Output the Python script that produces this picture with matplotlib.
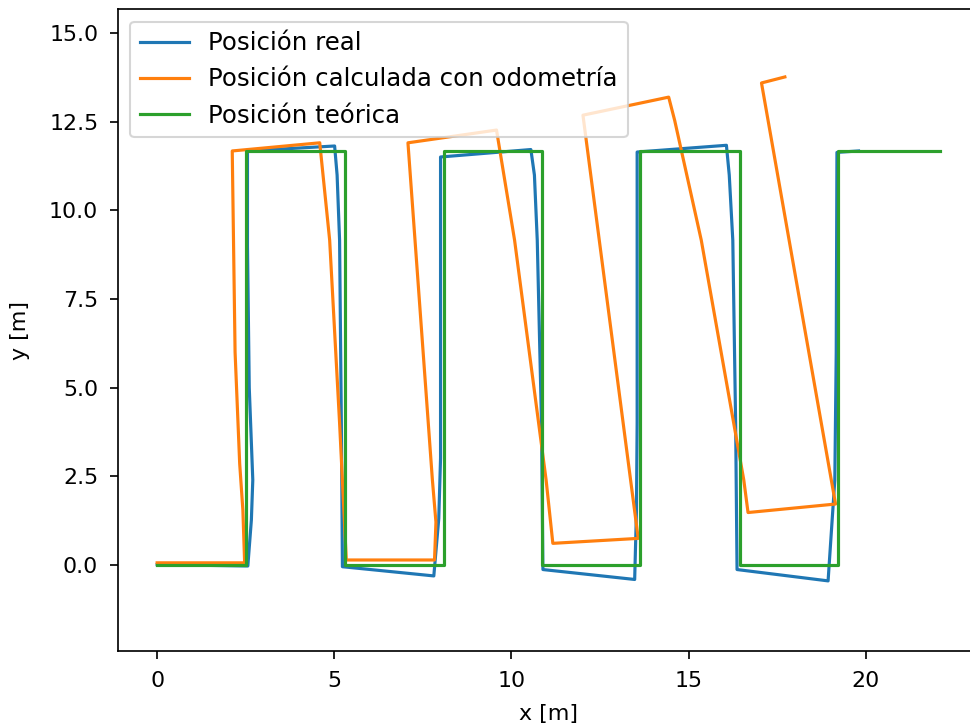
import matplotlib
matplotlib.use("Agg")
import matplotlib.pyplot as plt

# Posición teórica
x_teo = [0, 2.51, 2.51, 5.29, 5.29, 8.09, 8.09, 10.86, 10.86, 13.64, 13.64, 16.45, 16.45, 19.22, 19.22, 22.09]
y_teo = [0, 0, 11.67, 11.67, 0, 0, 11.67, 11.67, 0, 0, 11.67, 11.67, 0, 0, 11.67, 11.67]

# Posición real
x_real = [0, 2.56, 2.66, 2.70, 2.60, 2.55, 2.55, 5.01, 5.08, 5.15, 5.20, 5.23, 7.81, 7.95, 8.00, 8.00,
          10.55, 10.65, 10.73, 10.85, 10.89, 13.48, 13.53, 13.55, 13.55, 16.07, 16.15, 16.25, 16.33, 16.37,
          18.94, 19.13, 19.17, 19.19, 19.80]
y_real = [0, -0.04, 1.26, 2.39, 5.0, 9.0, 11.68, 11.82, 11.0, 9.16, 4.0, -0.06, -0.32, 1.3, 3.0, 11.51,
          11.72, 11.0, 9.16, 4.0, -0.14, -0.42, 1.5, 4.0, 11.65, 11.84, 11.0, 9.16, 4.0, -0.14,
          -0.46, 2.39, 6.0, 11.64, 11.68]

# Posición calculada con odometría
x_odo = [0, 2.47, 2.42, 2.33, 2.20, 2.12, 4.59, 4.87, 5.15, 5.34, 7.83, 7.87, 7.77, 7.08,
         9.58, 10.09, 10.98, 11.17, 13.58, 12.02, 14.44, 14.61, 15.36, 16.56, 16.68,
         19.15, 17.84, 17.06, 17.72]
y_odo = [0.05, 0.05, 1.54, 2.85, 6.0, 11.68, 11.91, 9.16, 4.0, 0.13, 0.13, 1.2, 2.39, 11.91,
         12.27, 9.16, 2.39, 0.60, 0.74, 12.69, 13.20, 12.54, 9.16, 2.39, 1.47,
         1.71, 9.16, 13.60, 13.77]

labels = ["Posición real", "Posición calculada con odometría", "Posición teórica"]

dpi = 151.5625
fig = plt.figure(figsize=(970 / dpi, 727 / dpi), dpi=dpi)
ax = fig.add_axes([118 / 970, 1 - 651 / 727, 861 / 970, 641.7 / 727])

ax.plot(x_real, y_real, color="#1f77b4", label=labels[0])
ax.plot(x_odo, y_odo, color="#ff7f0e", label=labels[1])
ax.plot(x_teo, y_teo, color="#2ca02c", label=labels[2])

ax.set_xlim(-1.105, 23.2)
ax.set_ylim(-2.44, 15.68)
ax.set_xticks([0, 5, 10, 15, 20])
ax.set_yticks([0.0, 2.5, 5.0, 7.5, 10.0, 12.5, 15.0])
ax.tick_params(labelsize=10.5, length=3.9, pad=5.5)
ax.set_xlabel("x [m]", fontsize=10.5, labelpad=6.5)
ax.set_ylabel("y [m]", fontsize=10.5, labelpad=9)
ax.legend(loc="upper left", fontsize=11.6)

fig.savefig("out.png", dpi=dpi)
